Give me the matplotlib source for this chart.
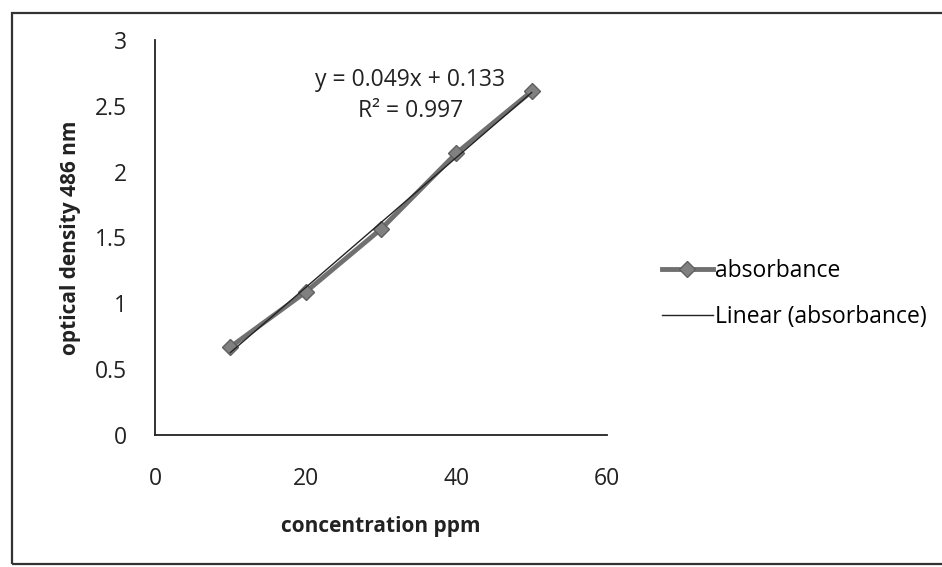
import numpy as np
import matplotlib
matplotlib.use("Agg")
import matplotlib.pyplot as plt
from matplotlib.patches import Rectangle
from matplotlib.lines import Line2D

plt.rcParams['font.family'] = ['Open Sans', 'DejaVu Sans']

concentration = [10, 20, 30, 40, 50]
absorbance = [0.668, 1.086, 1.564, 2.14, 2.61]
x_ticks = [0, 20, 40, 60]
y_ticks = [0, 0.5, 1, 1.5, 2, 2.5, 3]
y_tick_labels = ['0', '0.5', '1', '1.5', '2', '2.5', '3']

FS = 16.5
FSB = 15

fig = plt.figure(figsize=(9.42, 5.67), dpi=100)
fig.patch.set_facecolor('white')
# outer chart border
fig.add_artist(Rectangle((12/942, 3/567), 1.2, (567-13-3)/567, transform=fig.transFigure,
                         fill=False, edgecolor='#333333', linewidth=1.6))

ax = fig.add_axes([155/942, 1-435/567, (607-155)/942, (435-40)/567])
ax.set_xlim(0, 60)
ax.set_ylim(0, 3)
for s in ['top', 'right']:
    ax.spines[s].set_visible(False)
for s in ['left', 'bottom']:
    ax.spines[s].set_color('#222222')
    ax.spines[s].set_linewidth(1.3)
ax.tick_params(length=0, labelsize=FS, colors='#222222')
ax.tick_params(axis='x', pad=23)
ax.tick_params(axis='y', pad=20)
ax.set_xticks(x_ticks)
ax.set_yticks(y_ticks)
ax.set_yticklabels(y_tick_labels)

ax.plot(concentration, absorbance, color='#707070', linewidth=3.5, marker='D',
        markersize=8.5, markerfacecolor='#808080', markeredgecolor='#606060',
        label='absorbance', zorder=2)
slope, intercept = np.polyfit(concentration, absorbance, 1)
xs = np.array([concentration[0], concentration[-1]])
ax.plot(xs, slope*xs + intercept, color='#222222', linewidth=1.0,
        label='Linear (absorbance)', zorder=3)

ax.text(33.9, 2.695, 'y = 0.049x + 0.133', ha='center', va='center', fontsize=FS, color='#222222')
ax.text(33.9, 2.46, 'R² = 0.997', ha='center', va='center', fontsize=FS, color='#222222')

ax.set_xlabel('concentration ppm', fontsize=FSB, fontweight='bold', labelpad=18, color='#222222')
ax.set_ylabel('optical density 486 nm', fontsize=FSB, fontweight='bold', labelpad=10, color='#222222')

handles = [Line2D([], [], color='#707070', linewidth=3.5, marker='D', markersize=8.5,
                  markerfacecolor='#808080', markeredgecolor='#606060'),
           Line2D([], [], color='#222222', linewidth=1.0)]
fig.legend(handles, ['absorbance', 'Linear (absorbance)'], loc='center left',
           bbox_to_anchor=(641/942, 1-294/567), frameon=False, fontsize=FS,
           handlelength=2.25, handletextpad=0.1, labelspacing=1.0)

fig.savefig('out.png', dpi=100)
